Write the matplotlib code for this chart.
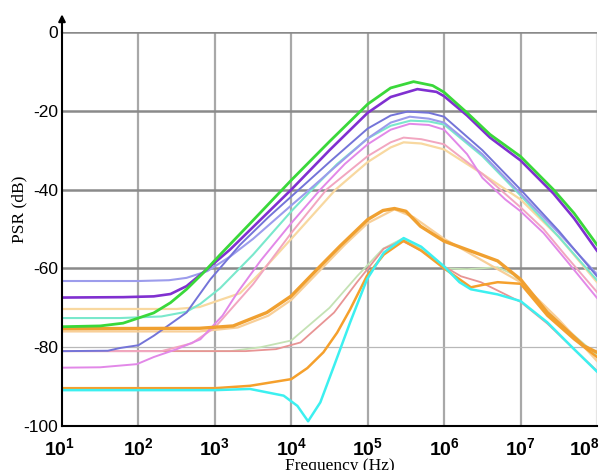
import numpy as np
import matplotlib
matplotlib.use("Agg")
import matplotlib.pyplot as plt
from matplotlib.transforms import ScaledTranslation

plt.rcParams["mathtext.fontset"] = "custom"
plt.rcParams["mathtext.rm"] = "Liberation Sans"
plt.rcParams["mathtext.bf"] = "Liberation Sans:bold"

# curves: log10(frequency) and PSR in dB
green_lf = [1, 1.5, 1.8, 2.0, 2.2, 2.42, 2.63, 2.85, 3.07, 3.5, 4.0, 4.5, 5.0, 5.3, 5.6, 5.85, 6.0, 6.3, 6.6, 7.0, 7.43, 7.7, 8.0]
green_db = [-74.8, -74.6, -73.9, -72.6, -71.3, -68.7, -65.3, -61.1, -56.5, -47.8, -37.6, -27.8, -18.3, -14.2, -12.6, -13.6, -15.3, -20.5, -26, -31.6, -40, -46, -54]

purple_lf = [1, 1.8, 2.2, 2.42, 2.63, 2.91, 3.2, 3.5, 4.0, 4.5, 5.0, 5.3, 5.65, 5.9, 6.0, 6.3, 6.6, 7.0, 7.43, 7.7, 8.0]
purple_db = [-67.4, -67.3, -67.1, -66.5, -64.5, -60, -55.2, -49.5, -40, -30, -20.5, -16.5, -14.5, -15.2, -16.3, -21.2, -26.8, -32.6, -41, -47.3, -55.5]

lav_lf = [1, 2.0, 2.4, 2.63, 2.9, 3.2, 3.5, 4.0, 4.18, 4.5, 5.0, 5.3, 5.55, 5.8, 6.0, 6.5, 7.0, 7.5, 8.0]
lav_db = [-63.2, -63.2, -63.0, -62.4, -60.7, -57, -52.5, -44, -41, -35.5, -27, -23, -21.5, -22, -23, -31, -41, -51, -61.5]

blue_lf = [1, 1.6, 1.76, 2.0, 2.2, 2.63, 2.94, 3.33, 3.7, 4.1, 4.5, 5.0, 5.3, 5.52, 5.8, 6.0, 6.5, 7.0, 7.5, 8.0]
blue_db = [-81, -80.9, -80.2, -79.5, -77.1, -71.2, -62.8, -54, -47, -40, -33, -24.5, -21.2, -20.2, -20.5, -21.5, -30, -40, -50.5, -62]

aqua_lf = [1, 1.76, 2.3, 2.63, 2.81, 3.07, 3.5, 4.0, 4.27, 4.6, 5.0, 5.3, 5.56, 5.8, 6.0, 6.5, 7.0, 7.5, 8.0]
aqua_db = [-72.6, -72.6, -72.2, -71, -69, -65, -56.5, -45.5, -40, -33.5, -27, -23.8, -22.5, -22.7, -23.5, -31.5, -41.5, -52, -63]

violet_lf = [1, 1.5, 1.98, 2.2, 2.5, 2.81, 3.1, 3.3, 3.6, 4.0, 4.38, 4.7, 5.0, 5.3, 5.55, 5.8, 6.0, 6.3, 6.5, 6.8, 7.0, 7.3, 7.6, 8.0]
violet_db = [-85.2, -85.1, -84.3, -82.5, -80.5, -78, -72, -66, -58, -48.5, -40, -33.5, -28.5, -24.8, -23.3, -23.6, -24.8, -31, -37, -42.5, -45.5, -51, -58, -67.5]

spink_lf = [1, 2.3, 2.7, 3.0, 3.5, 4.0, 4.46, 5.0, 5.3, 5.47, 5.7, 6.0, 6.5, 7.0, 7.3, 7.6, 8.0]
spink_db = [-81, -81, -79, -75, -64, -51, -40, -31.5, -28, -26.8, -27.2, -28.5, -36, -44.5, -50, -57, -66]

lorange_lf = [1, 2.5, 2.8, 3.07, 3.33, 3.6, 4.0, 4.58, 5.0, 5.3, 5.47, 5.7, 6.0, 6.5, 7.0, 7.5, 8.0]
lorange_db = [-70.3, -70.3, -69.8, -68, -66.3, -61, -52.5, -40, -33, -29.3, -28, -28.3, -29.8, -36, -42.5, -52, -63.5]

orange_lf = [1, 2.8, 3.24, 3.68, 4.0, 4.34, 4.64, 5.0, 5.2, 5.35, 5.5, 5.69, 6.0, 6.35, 6.7, 7.0, 7.35, 7.83, 8.0]
orange_db = [-75.3, -75.2, -74.6, -71.2, -67, -60.2, -54.3, -47.6, -45.3, -44.8, -45.5, -49.3, -53.1, -55.6, -58.1, -62.8, -71.2, -79.7, -81.3]

porange_lf = [1, 2.8, 3.3, 3.7, 4.0, 4.4, 4.7, 5.0, 5.35, 5.6, 6.0, 6.5, 7.0, 7.5, 8.0]
porange_db = [-76, -76, -75, -72, -68, -60, -54, -48.5, -45, -47, -52.5, -58, -63.5, -73, -83.5]

orange2_lf = [1, 3.0, 3.46, 4.0, 4.21, 4.42, 4.6, 4.77, 4.99, 5.21, 5.47, 5.7, 6.0, 6.35, 6.5, 6.7, 7.0, 7.35, 7.7, 8.0]
orange2_db = [-90.4, -90.4, -89.8, -88.1, -85.3, -81.3, -76.3, -70.4, -61.9, -56.5, -53, -55.5, -60, -64.8, -64.2, -63.5, -63.9, -72, -78, -82.5]

cyan_lf = [1, 3.0, 3.46, 3.9, 4.08, 4.22, 4.38, 4.56, 4.77, 4.99, 5.21, 5.47, 5.7, 6.0, 6.2, 6.35, 6.7, 7.0, 7.35, 7.7, 8.0]
cyan_db = [-90.9, -90.9, -90.6, -92.3, -94.9, -98.8, -94, -84.7, -73.7, -62.8, -56, -52.3, -54.5, -59.5, -63.5, -65.3, -66.6, -68.3, -73.7, -80.5, -86.2]

red_lf = [1, 3.4, 3.8, 4.12, 4.56, 4.86, 5.21, 5.45, 5.7, 6.0, 6.22, 6.48, 7.0, 7.35, 7.7, 8.0]
red_db = [-81, -81, -80.5, -78.8, -71.2, -63.5, -55, -53, -55.5, -59.5, -62, -63.5, -68.5, -74, -80.5, -86]

lgreen_lf = [1, 3.2, 3.6, 4.0, 4.5, 4.86, 5.2, 5.45, 5.7, 6.0, 6.3, 6.7, 6.9, 7.0, 7.35, 7.7, 8.0]
lgreen_db = [-81, -81, -80, -78.3, -70, -62, -55, -52.5, -55, -60, -60.2, -59.7, -61.5, -63.5, -71, -77, -82]

yticks = [0, -20, -40, -60, -80, -100]
decades = [1, 2, 3, 4, 5, 6, 7, 8]

fig = plt.figure(figsize=(6.01, 4.70), dpi=100)
ax = fig.add_axes([62/601, 44/470, 535/601, 394/470])

# grid drawn by hand: strong lines at 0..-60, faint one at -80
for d in decades[1:]:
    c = "#e6e6e6" if d == 8 else "#a8a8a8"
    ax.axvline(10.0**d, color=c, lw=1.6, zorder=1)
for v in yticks[:-1]:
    if v == -80:
        ax.axhline(v, color="#b8b8b8", lw=0.9, zorder=1)
    else:
        ax.axhline(v, color="#8a8a8a", lw=1.8, zorder=1)

def curve(lf, db, color, lw=1.4, alpha=1.0):
    ax.plot(10.0**np.array(lf), db, color=color, lw=lw, alpha=alpha, zorder=3)

curve(lgreen_lf, lgreen_db, "#c4e2b4", 1.3)
curve(red_lf, red_db, "#e89494", 1.3)
curve(porange_lf, porange_db, "#f8cf98", 1.6)
curve(lorange_lf, lorange_db, "#f8d8a0", 1.6)
curve(spink_lf, spink_db, "#f2a6c0", 1.4)
curve(violet_lf, violet_db, "#e288e8", 1.4)
curve(aqua_lf, aqua_db, "#7ae8cc", 1.5)
curve(lav_lf, lav_db, "#9c9cec", 1.5)
curve(blue_lf, blue_db, "#7474d8", 1.4)
curve(orange2_lf, orange2_db, "#f5a02c", 1.8)
curve(cyan_lf, cyan_db, "#3cf0f0", 1.8)
curve(orange_lf, orange_db, "#f0a030", 2.4)
curve(purple_lf, purple_db, "#8030d0", 1.9)
curve(green_lf, green_db, "#3ad83a", 2.0)

ax.set_xscale("log")
ax.set_xlim(10, 1e8)
ax.set_ylim(-100, 0)
ax.set_xticks([10.0**d for d in decades])
ax.set_xticklabels([r"$\mathbf{10^{%d}}$" % d for d in decades])
ax.minorticks_off()
ax.set_yticks(yticks)
ax.set_yticklabels([str(v) for v in yticks], fontsize=12.5, family="Liberation Sans")
ax.tick_params(axis="both", length=0)
ax.tick_params(axis="x", pad=8, labelsize=14)
ax.tick_params(axis="y", pad=3)

# pull the first and last decade labels inward like the original
xl = ax.get_xticklabels()
xl[0].set_transform(xl[0].get_transform() + ScaledTranslation(-2/72, 0, fig.dpi_scale_trans))
xl[-1].set_transform(xl[-1].get_transform() + ScaledTranslation(-9/72, 0, fig.dpi_scale_trans))

for s in ["top", "right"]:
    ax.spines[s].set_visible(False)
ax.spines["left"].set_linewidth(1.5)
ax.spines["bottom"].set_linewidth(1.5)
ax.spines["left"].set_zorder(5)
ax.spines["bottom"].set_zorder(5)

# arrow on top of the y axis
ax.annotate("", xy=(0, 1.052), xytext=(0, 0.99), xycoords="axes fraction",
            arrowprops=dict(arrowstyle="-|>", color="black", lw=1.5, mutation_scale=10))

ax.set_xlabel("Frequency (Hz)", family="Liberation Serif", fontsize=12.5)
ax.xaxis.set_label_coords(0.52, -0.08)
ax.set_ylabel("PSR (dB)", family="Liberation Serif", fontsize=12.5)
ax.yaxis.set_label_coords(-0.065, 0.55)

fig.savefig("out.png", dpi=100)
